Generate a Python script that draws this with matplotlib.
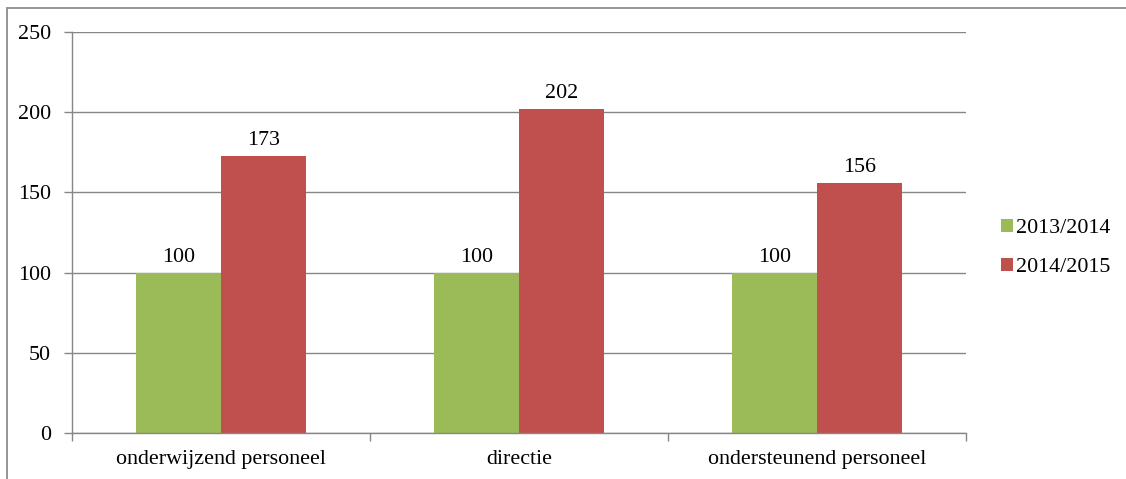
import matplotlib.pyplot as plt
from matplotlib.patches import Rectangle
import numpy as np

categories = ["onderwijzend personeel", "directie", "ondersteunend personeel"]
series_names = ["2013/2014", "2014/2015"]
values_2013 = [100, 100, 100]
values_2014 = [173, 202, 156]
colors = ["#9BBB59", "#C0504D"]

plt.rcParams["font.family"] = ["Liberation Serif", "DejaVu Serif"]
plt.rcParams["font.size"] = 15.8

fig = plt.figure(figsize=(11.26, 4.79), dpi=100)
ax = fig.add_axes([72 / 1126, 1 - 433 / 479, (966 - 72) / 1126, (433 - 32) / 479])

# outer chart border (runs off the right and bottom edges)
fig.patches.append(Rectangle((7 / 1126, -0.1), 1.2, 1 - 8 / 479 + 0.1,
                             transform=fig.transFigure, fill=False,
                             edgecolor="#8c8c8c", linewidth=1.3))

x = np.arange(len(categories))
w = 0.285
grey = "#868686"

ax.set_axisbelow(True)
ax.yaxis.grid(True, color=grey, linewidth=1)
b1 = ax.bar(x - w / 2, values_2013, w, color=colors[0], label=series_names[0])
b2 = ax.bar(x + w / 2, values_2014, w, color=colors[1], label=series_names[1])

for bars, vals in ((b1, values_2013), (b2, values_2014)):
    for rect, v in zip(bars, vals):
        ax.annotate(str(v), (rect.get_x() + rect.get_width() / 2, v),
                    xytext=(0, 4), textcoords="offset points",
                    ha="center", va="bottom")

ax.set_xlim(-0.5, len(categories) - 0.5)
ax.set_ylim(0, 250)
ax.set_yticks(range(0, 251, 50))
ax.set_xticks(x)
ax.set_xticklabels(categories)
ax.set_xticks(np.arange(-0.5, len(categories), 1), minor=True)
ax.tick_params(axis="x", which="major", length=0, pad=12)
ax.tick_params(axis="x", which="minor", length=6, color=grey, width=1)
ax.tick_params(axis="y", length=6, color=grey, width=1, pad=9)

for side in ("top", "right"):
    ax.spines[side].set_visible(False)
for side in ("left", "bottom"):
    ax.spines[side].set_color(grey)
    ax.spines[side].set_linewidth(1)

ax.legend(loc="center left", bbox_to_anchor=(1001 / 1126, 1 - 248 / 479),
          bbox_transform=fig.transFigure, frameon=False,
          handlelength=0.55, handleheight=0.55, handletextpad=0.15,
          labelspacing=0.9, borderaxespad=0, borderpad=0)

fig.savefig("out.png", dpi=100)
